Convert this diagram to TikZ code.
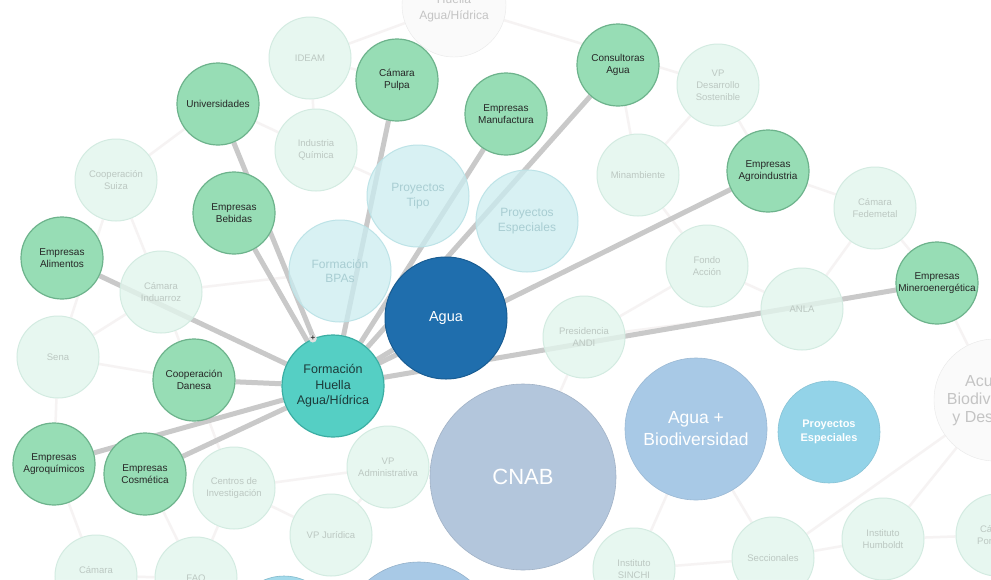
\documentclass[tikz,border=0pt]{standalone}
\usepackage{fontspec}
\setmainfont{Liberation Sans}
\pgfdeclarelayer{bg}
\pgfdeclarelayer{edges}
\pgfsetlayers{bg,edges,main}
\definecolor{greenfill}{HTML}{97DDB5}
\definecolor{greenline}{HTML}{6DB38C}
\definecolor{palefill}{HTML}{E2F5ED}
\definecolor{paleline}{HTML}{D3EBE1}
\definecolor{paletext}{HTML}{BCC8C2}
\definecolor{cyanfill}{HTML}{CBEDF0}
\definecolor{cyanline}{HTML}{BDE3E7}
\definecolor{cyantext}{HTML}{A8CDD2}
\definecolor{aguafill}{HTML}{1F6EAD}
\definecolor{aguaborder}{HTML}{185C92}
\definecolor{tealfill}{HTML}{55CFC4}
\definecolor{tealborder}{HTML}{3BAEA3}
\definecolor{tealtext}{HTML}{1D3B3A}
\definecolor{cnabfill}{HTML}{B3C6DC}
\definecolor{biofill}{HTML}{A8C9E6}
\definecolor{pefill}{HTML}{93D3E8}
\definecolor{edgegray}{HTML}{C9C9C9}
\definecolor{faintline}{HTML}{F6F3F3}
\definecolor{whitefill}{HTML}{FAFAFA}
\definecolor{whiteline}{HTML}{E9E9E9}
\definecolor{whitetext}{HTML}{C4C4C4}
\tikzset{
  base/.style={circle, inner sep=0pt, align=center, font=\fontsize{10}{12.5}\selectfont},
  grn/.style={base, fill=greenfill, draw=greenline, line width=1.2pt, minimum size=82pt, text=black!85},
  pale/.style={base, fill=palefill, draw=paleline, line width=1pt, fill opacity=0.8, text opacity=1, minimum size=82pt, text=paletext, font=\fontsize{9.5}{12}\selectfont},
  cyanc/.style={base, fill=cyanfill, draw=cyanline, line width=1pt, fill opacity=0.75, text opacity=1, minimum size=102pt, text=cyantext, font=\fontsize{12}{14.5}\selectfont},
  edge/.style={draw=edgegray, line width=5pt},
  faint/.style={draw=faintline, line width=2.5pt},
  plusmark/.style={circle, inner sep=0pt, minimum size=8pt, fill=black!12, text=black!80, font=\fontsize{8}{8}\selectfont\bfseries},
}
\begin{document}
\begin{tikzpicture}[x=1pt,y=-1pt]
\useasboundingbox (0,0) rectangle (991,579);
\clip (0,0) rectangle (991,579);
% faded nodes
\node[pale] (ideam) at (310,58) {IDEAM};
\node[pale] (indq) at (316,150) {Industria\\Química};
\node[pale] (suiza) at (116,180) {Cooperación\\Suiza};
\node[pale] (induarroz) at (161,292) {Cámara\\Induarroz};
\node[pale] (sena) at (58,357) {Sena};
\node[pale] (vpdes) at (718,85) {VP\\Desarrollo\\Sostenible};
\node[pale] (minamb) at (638,175) {Minambiente};
\node[pale] (fedemetal) at (875,208) {Cámara\\Fedemetal};
\node[pale] (fondo) at (707,266) {Fondo\\Acción};
\node[pale] (anla) at (802,309) {ANLA};
\node[pale] (andi) at (584,337) {Presidencia\\ANDI};
\node[pale] (vpadm) at (388,467) {VP\\Administrativa};
\node[pale] (centros) at (234,488) {Centros de\\Investigación};
\node[pale] (vpjur) at (331,535) {VP Jurídica};
\node[pale] (camara2) at (96,576) {Cámara\\\mbox{}};
\node[pale] (fao) at (196,578) {FAO};
\node[pale] (sinchi) at (634,569) {Instituto\\SINCHI};
\node[pale] (seccion) at (773,558) {Seccionales};
\node[pale] (humboldt) at (883,539) {Instituto\\Humboldt};
\node[pale] (porc) at (997,535) {Cámara\\Porcícola};
\node[cyanc] (ptipo) at (418,196) {Proyectos\\Tipo};
\node[cyanc] (pesp1) at (527,221) {Proyectos\\Especiales};
\node[cyanc] (bpas) at (340,271) {Formación\\BPAs};
% big nodes
\node[base, fill=whitefill, draw=whiteline, minimum size=104pt, text=whitetext, font=\fontsize{12}{16}\selectfont] (huella) at (454,5) {\mbox{}\\Huella\\Agua/Hídrica};
\node[base, fill=whitefill, draw=whiteline, minimum size=122pt, text=whitetext, font=\fontsize{16}{18}\selectfont] (acue) at (995,400) {Acuerdo\\Biodiversidad\\y Desarrollo};
\node[base, fill=cnabfill, draw=cnabfill!90!black, line width=0.6pt, minimum size=186pt, text=white, font=\fontsize{22}{26}\selectfont] (cnab) at (523,477) {CNAB};
\node[base, fill=biofill, draw=biofill!92!black, line width=0.6pt, minimum size=142pt, text=white, font=\fontsize{17.5}{22}\selectfont] (bio) at (696,429) {Agua +\\Biodiversidad};
\node[base, fill=pefill, draw=pefill!92!black, line width=0.6pt, minimum size=102pt, text=white, font=\fontsize{11}{13.5}\selectfont\bfseries] (pesp2) at (829,432) {Proyectos\\Especiales};
\node[base, fill=biofill, draw=biofill!88!black, line width=0.6pt, minimum size=158pt] (blue3) at (419,641) {};
\node[base, fill=pefill!85!white, draw=pefill!88!black, line width=0.6pt, minimum size=102pt] (cyan3) at (284,627) {};
% green nodes
\node[grn] (univ) at (218,104) {Universidades};
\node[grn] (pulpa) at (397,80) {Cámara\\Pulpa};
\node[grn] (manuf) at (506,114) {Empresas\\Manufactura};
\node[grn] (consul) at (618,65) {Consultoras\\Agua};
\node[grn] (agroind) at (768,171) {Empresas\\Agroindustria};
\node[grn] (bebidas) at (234,213) {Empresas\\Bebidas};
\node[grn] (alim) at (62,258) {Empresas\\Alimentos};
\node[grn] (danesa) at (194,380) {Cooperación\\Danesa};
\node[grn] (agroq) at (54,464) {Empresas\\Agroquímicos};
\node[grn] (cosm) at (145,474) {Empresas\\Cosmética};
\node[grn] (minero) at (937,283) {Empresas\\Mineroenergética};
% central nodes
\node[base, fill=aguafill, draw=aguaborder, line width=1pt, minimum size=122pt, text=white, font=\fontsize{14.5}{17}\selectfont] (agua) at (446,318) {Agua};
\node[base, fill=tealfill, draw=tealborder, line width=1.2pt, minimum size=102pt, text=tealtext, font=\fontsize{12.5}{15.5}\selectfont] (form) at (333,386) {Formación\\Huella\\Agua/Hídrica};
\node[plusmark] (fplus) at (form.113) {+};
% connectors
\begin{pgfonlayer}{edges}
\clip (0,0) rectangle (991,579);
\foreach \t in {univ,bebidas,pulpa,manuf,consul,agroind,minero,alim,danesa,agroq,cosm,agua}
  \draw[edge] (form) -- (\t);
\end{pgfonlayer}
\begin{pgfonlayer}{bg}
\fill[white] (0,0) rectangle (991,579);
\clip (0,0) rectangle (991,579);
\foreach \a/\b in {suiza/induarroz, suiza/sena, suiza/univ, sena/induarroz, sena/danesa, induarroz/centros, centros/vpjur, centros/vpadm, vpadm/vpjur, vpadm/cnab, ideam/indq, ideam/pulpa, indq/univ, indq/ptipo, minamb/vpdes, minamb/fondo, minamb/consul, fondo/anla, fondo/andi, anla/fedemetal, fedemetal/minero, fedemetal/agroind, minero/acue, acue/humboldt, acue/seccion, seccion/humboldt, sinchi/seccion, andi/anla, andi/cnab, bio/seccion, bio/sinchi, camara2/fao, fao/centros, humboldt/porc, agroq/camara2, cosm/fao, sena/agroq, huella/ideam, huella/vpdes, vpdes/agroind, induarroz/bpas}
  \draw[faint] (\a) -- (\b);
\end{pgfonlayer}
\end{tikzpicture}
\end{document}
